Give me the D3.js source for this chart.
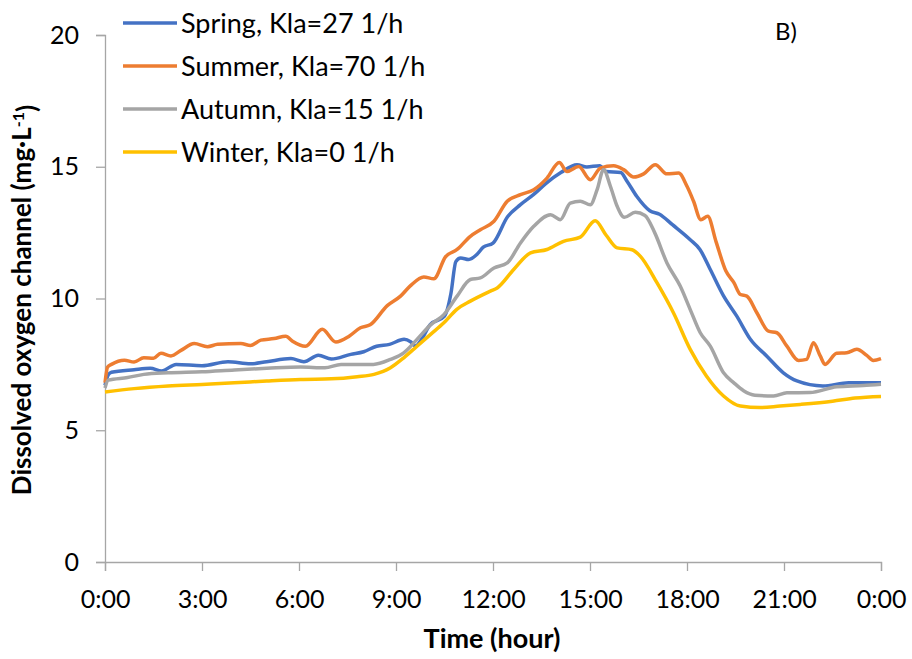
<!DOCTYPE html>
<html><head><meta charset="utf-8">
<script src="https://cdn.jsdelivr.net/npm/d3@7"></script>
<style>body{margin:0;background:#fff}svg{display:block}</style>
</head><body>
<svg id="c" width="912" height="659"></svg>
<script>
const xTicks = [0,3,6,9,12,15,18,21,24];
const yTicks = [0,5,10,15,20];
const seriesNames = ["Spring, Kla=27 1/h","Summer, Kla=70 1/h","Autumn, Kla=15 1/h","Winter, Kla=0 1/h"];
const seriesColors = ["#4472C4","#ED7D31","#A5A5A5","#FFC000"];

const spring = [[0,6.7],[0.1,7.1],[0.2,7.2],[0.9,7.3],[1.4,7.35],[1.75,7.25],[2.2,7.5],[3.0,7.45],[3.8,7.6],[4.5,7.52],[5.0,7.6],[5.75,7.72],[6.15,7.6],[6.6,7.85],[7.0,7.7],[7.6,7.88],[8.0,7.98],[8.4,8.19],[8.8,8.26],[9.25,8.45],[9.45,8.36],[9.6,8.2],[9.8,8.47],[10.05,9.0],[10.5,9.33],[10.7,10.2],[10.85,11.4],[11.0,11.54],[11.25,11.48],[11.5,11.67],[11.7,11.95],[12.0,12.1],[12.45,13.1],[12.85,13.56],[13.25,13.94],[13.65,14.38],[14.1,14.78],[14.6,15.08],[14.9,14.99],[15.3,15.04],[15.5,14.82],[15.95,14.78],[16.15,14.44],[16.45,13.87],[16.85,13.33],[17.15,13.2],[17.55,12.8],[18.1,12.23],[18.4,11.86],[18.72,11.1],[19.13,10.1],[19.54,9.33],[19.96,8.45],[20.47,7.81],[20.98,7.18],[21.4,6.87],[22.2,6.68],[23.0,6.8],[24,6.8]];
const summer = [[0,6.8],[0.08,7.4],[0.2,7.5],[0.6,7.66],[0.9,7.59],[1.2,7.75],[1.5,7.73],[1.73,7.92],[2.04,7.82],[2.35,8.03],[2.76,8.29],[3.17,8.17],[3.48,8.26],[4.2,8.29],[4.5,8.22],[4.82,8.42],[5.23,8.48],[5.59,8.57],[5.8,8.38],[6.2,8.19],[6.72,8.83],[7.14,8.35],[7.55,8.57],[7.9,8.89],[8.2,9.0],[8.73,9.73],[9.14,10.09],[9.45,10.49],[9.86,10.82],[10.17,10.75],[10.53,11.58],[10.89,11.86],[11.3,12.36],[11.61,12.61],[12.03,12.93],[12.44,13.69],[12.85,13.94],[13.26,14.13],[13.67,14.57],[14.05,15.16],[14.29,14.82],[14.65,15.01],[15.01,14.51],[15.32,14.95],[15.73,15.04],[16.04,14.89],[16.35,14.61],[16.66,14.73],[17.02,15.08],[17.38,14.73],[17.74,14.76],[18.0,14.26],[18.2,13.7],[18.43,12.99],[18.64,13.12],[18.9,12.15],[19.2,11.05],[19.45,10.6],[19.65,10.15],[19.85,10.09],[20.16,9.46],[20.52,8.76],[20.78,8.7],[21.09,8.19],[21.45,7.65],[21.7,7.69],[21.91,8.32],[22.12,7.82],[22.27,7.5],[22.63,7.92],[22.94,7.94],[23.25,8.07],[23.56,7.84],[23.76,7.65],[24.0,7.72]];
const autumn = [[0,6.6],[0.1,6.9],[0.7,7.0],[1.2,7.12],[1.95,7.18],[3.0,7.22],[4.0,7.29],[5.0,7.35],[6.05,7.4],[6.8,7.37],[7.3,7.5],[8.3,7.5],[8.83,7.69],[9.24,7.94],[9.65,8.45],[10.07,9.0],[10.48,9.39],[10.89,10.09],[11.3,10.72],[11.61,10.78],[12.03,11.16],[12.44,11.35],[12.85,12.11],[13.26,12.74],[13.78,13.18],[14.08,12.99],[14.39,13.62],[14.7,13.69],[15.01,13.56],[15.22,14.13],[15.42,14.89],[15.63,14.26],[15.84,13.5],[16.06,13.08],[16.4,13.27],[16.7,13.15],[17.0,12.5],[17.38,11.35],[17.79,10.47],[18.1,9.58],[18.41,8.7],[18.72,8.19],[19.13,7.18],[19.45,6.8],[19.75,6.5],[20.1,6.33],[20.68,6.3],[21.09,6.42],[21.8,6.43],[22.63,6.65],[23.45,6.7],[24,6.75]];
const winter = [[0,6.45],[0.9,6.58],[1.95,6.68],[3.0,6.74],[4.0,6.8],[5.0,6.87],[6.05,6.93],[7.0,6.95],[7.8,7.03],[8.32,7.12],[8.83,7.37],[9.24,7.75],[9.65,8.19],[10.07,8.64],[10.48,9.08],[10.89,9.6],[11.3,9.9],[11.92,10.28],[12.13,10.4],[12.64,11.1],[13.16,11.73],[13.67,11.86],[14.18,12.17],[14.7,12.33],[15.16,12.95],[15.5,12.4],[15.84,11.92],[16.3,11.85],[16.56,11.6],[17.07,10.6],[17.58,9.46],[18.1,8.07],[18.6,7.06],[19.13,6.3],[19.65,5.92],[20.27,5.86],[20.88,5.92],[21.5,5.98],[22.5,6.1],[23.2,6.22],[24,6.28]];
const seriesData = [spring, summer, autumn, winter];

const svg = d3.select("#c");
const font = "Lato, 'Open Sans', sans-serif";
const x = d3.scaleLinear().domain([0,24]).range([105,881]);
const y = d3.scaleLinear().domain([0,20]).range([562,35]);
const axisColor = "#a6a6a6";

const xAxis = svg.append("g").attr("transform","translate(0,562)")
  .call(d3.axisBottom(x).tickValues(xTicks).tickSize(9).tickPadding(19).tickFormat(d => (d%24)+":00"));
const yAxis = svg.append("g").attr("transform","translate(105,0)")
  .call(d3.axisLeft(y).tickValues(yTicks).tickSize(9).tickPadding(17));
[xAxis,yAxis].forEach(g=>{
  g.select(".domain").attr("stroke",axisColor).attr("stroke-width",1.3);
  g.selectAll(".tick line").attr("stroke",axisColor).attr("stroke-width",1.3);
  g.selectAll(".tick text").attr("fill","#000").style("font-family",font).style("font-size","25px");
});

const line = d3.line().x(d=>x(d[0])).y(d=>y(d[1])).curve(d3.curveMonotoneX);
svg.append("g").selectAll("path").data(seriesData).join("path")
  .attr("d",line).attr("fill","none")
  .attr("stroke",(d,i)=>seriesColors[i]).attr("stroke-width",3.5).attr("stroke-linejoin","round");

// legend
const leg = svg.append("g");
const legY = [23,66,109,152];
seriesNames.forEach((n,i)=>{
  leg.append("line").attr("x1",123).attr("x2",177).attr("y1",legY[i]).attr("y2",legY[i])
    .attr("stroke",seriesColors[i]).attr("stroke-width",3.5);
  leg.append("text").attr("x",181).attr("y",legY[i]).attr("dy","0.36em")
    .style("font-family",font).style("font-size","27px").text(n);
});

svg.append("text").attr("x",786).attr("y",31).attr("dy","0.36em").attr("text-anchor","middle")
  .style("font-family",font).style("font-size","24px").text("B)");

svg.append("text").attr("x",492).attr("y",638).attr("dy","0.36em").attr("text-anchor","middle")
  .style("font-family",font).style("font-size","27px").style("font-weight","bold").text("Time (hour)");

const yt = svg.append("text").attr("transform","translate(22,300) rotate(-90)").attr("dy","0.36em")
  .attr("text-anchor","middle").style("font-family",font).style("font-size","26px").style("font-weight","bold");
yt.append("tspan").text("Dissolved oxygen channel (mg·L");
yt.append("tspan").attr("dy","-0.45em").style("font-size","16px").text("-1");
yt.append("tspan").attr("dy","0.45em").text(")");
</script>
</body></html>
